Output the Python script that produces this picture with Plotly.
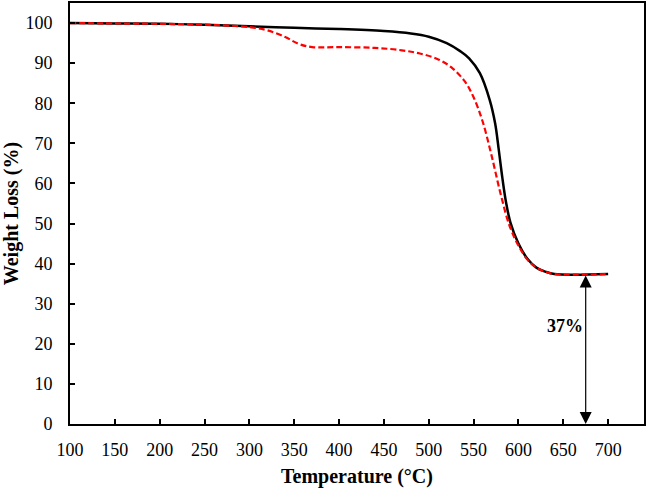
import plotly.graph_objects as go

# temperature (°C) and weight (%)
temp_black = [100, 150, 200, 250, 300, 350, 400, 450, 480, 500, 520, 535, 545, 557, 568,
              574, 578, 582, 586, 591, 600, 610, 620, 630, 640, 700]
weight_black = [100, 99.9, 99.8, 99.6, 99.2, 98.8, 98.5, 98.0, 97.4, 96.6, 95.0, 93.0, 91.2,
                87.5, 80.8, 75.0, 68.5, 61.5, 55.5, 50.3, 45.0, 41.2, 39.0, 38.0, 37.4, 37.4]

temp_red = [100, 150, 200, 250, 300, 320, 340, 355, 370, 400, 440, 470, 490, 510, 525, 540,
            550, 560, 570, 580, 590, 600, 610, 620, 630, 640, 700]
weight_red = [100, 99.9, 99.8, 99.6, 99.0, 98.2, 96.5, 94.8, 94.0, 94.0, 93.8, 93.2, 92.4,
              91.0, 89.0, 85.5, 81.5, 75.5, 67.0, 57.5, 49.5, 44.5, 41.0, 39.0, 38.0, 37.4, 37.4]

residue_temp = 675
residue_value = 37.4
residue_label = "37%"

FONT = "Liberation Serif, Times New Roman, serif"

fig = go.Figure()
fig.add_trace(go.Scatter(x=temp_black, y=weight_black, mode="lines", line_shape="spline",
                         line=dict(color="black", width=2.5)))
fig.add_trace(go.Scatter(x=temp_red, y=weight_red, mode="lines", line_shape="spline",
                         line=dict(color="#ff0000", width=2.2, dash="6px,3px")))

# double-headed arrow showing the residue
fig.add_annotation(x=residue_temp, y=0, ax=residue_temp, ay=residue_value,
                   xref="x", yref="y", axref="x", ayref="y", text="",
                   showarrow=True, arrowhead=2, startarrowhead=2, arrowside="end+start",
                   arrowsize=2, startarrowsize=2, arrowwidth=1.2, arrowcolor="black")
fig.add_annotation(x=652, y=24.5, xref="x", yref="y", text="<b>" + residue_label + "</b>",
                   showarrow=False, font=dict(family=FONT, size=18, color="black"))

axis_common = dict(showgrid=False, zeroline=False, showline=True, linecolor="black",
                   linewidth=2, mirror=True, ticks="inside", ticklen=5, tickwidth=1.5,
                   tickcolor="black", automargin=False,
                   tickfont=dict(family=FONT, size=18, color="black"))

fig.update_xaxes(range=[100, 740], tickvals=list(range(100, 701, 50)),
                 title=dict(text="<b>Temperature (°C)</b>",
                            font=dict(family=FONT, size=20, color="black"), standoff=12),
                 ticklabelstandoff=8, **axis_common)
fig.update_yaxes(range=[0, 105], tickvals=list(range(0, 101, 10)),
                 title=dict(text="<b>Weight Loss (%)</b>",
                            font=dict(family=FONT, size=20, color="black"), standoff=12),
                 ticklabelstandoff=12, **axis_common)

fig.update_layout(width=646, height=488, showlegend=False,
                  margin=dict(l=70, r=2, t=3, b=64),
                  plot_bgcolor="white", paper_bgcolor="white")

# drop the default page margin so the figure sits at the window's corner
fig.write_html("out.html", config={"displayModeBar": False},
               post_script="document.body.style.margin='0px';")
